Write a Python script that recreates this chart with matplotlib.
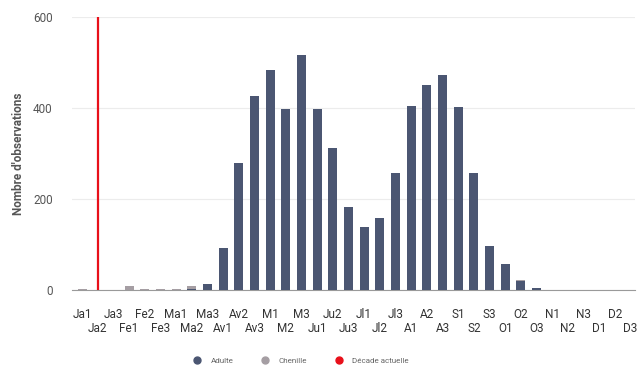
import numpy as np
import matplotlib
matplotlib.use("Agg")
import matplotlib.pyplot as plt
from matplotlib.lines import Line2D

plt.rcParams['font.family'] = ['Roboto', 'DejaVu Sans']

decades = ["Ja1", "Ja2", "Ja3", "Fe1", "Fe2", "Fe3", "Ma1", "Ma2", "Ma3",
           "Av1", "Av2", "Av3", "M1", "M2", "M3", "Ju1", "Ju2", "Ju3",
           "Jl1", "Jl2", "Jl3", "A1", "A2", "A3", "S1", "S2", "S3",
           "O1", "O2", "O3", "N1", "N2", "N3", "D1", "D2", "D3"]

adulte = [0, 0, 0, 0, 0, 0, 0, 2, 13,
          92, 279, 426, 483, 398, 516, 398, 312, 182,
          138, 158, 257, 404, 450, 473, 402, 257, 97,
          57, 20, 4, 0, 0, 0, 0, 0, 0]

chenille = [3, 0, 0, 9, 2, 3, 3, 7, 1,
            0, 0, 0, 0, 0, 0, 0, 0, 0,
            0, 0, 0, 0, 0, 0, 0, 0, 0,
            0, 2, 0, 0, 0, 0, 0, 0, 0]

decade_actuelle = "Ja2"

c_adulte = "#4b5672"
c_chenille = "#a59ea3"
c_red = "#e8101a"
c_text = "#555555"

fig = plt.figure(figsize=(6.43, 3.69), dpi=100)
ax = fig.add_axes([0.112, 0.214, 0.876, 0.740])

x = np.arange(len(decades))
ax.bar(x, adulte, width=0.58, color=c_adulte, zorder=3)
ax.bar(x, chenille, width=0.58, bottom=adulte, color=c_chenille, zorder=3)

ax.axvline(decades.index(decade_actuelle), ymin=0, ymax=1, color=c_red, lw=1.6, zorder=4)

ax.set_ylim(0, 600)
ax.set_xlim(-0.64, 35.3)
ax.set_yticks([0, 200, 400, 600])
ax.yaxis.grid(True, color="#ececec", lw=0.8, zorder=0)

# labels alternate on two rows
ax.set_xticks(x[::2])
ax.set_xticklabels(decades[::2], fontsize=8.5, color="#333333")
ax.set_xticks(x[1::2], minor=True)
ax.set_xticklabels(decades[1::2], minor=True, fontsize=8.5, color="#333333")
ax.tick_params(axis="x", which="major", length=0, pad=13)
ax.tick_params(axis="x", which="minor", length=0, pad=23)
ax.tick_params(axis="y", length=0, pad=14, labelsize=8.5, labelcolor=c_text)

for s in ["top", "right", "left"]:
    ax.spines[s].set_visible(False)
ax.spines["bottom"].set_color("#9a9a9a")
ax.spines["bottom"].set_linewidth(0.8)

ax.set_ylabel("Nombre d'observations", fontsize=8.5, color=c_text, fontweight="semibold", labelpad=6)

handles = [
    Line2D([], [], marker="o", ls="", color=c_adulte, markersize=5, label="Adulte"),
    Line2D([], [], marker="o", ls="", color=c_chenille, markersize=5, label="Chenille"),
    Line2D([], [], marker="o", ls="", color=c_red, markersize=5, label="Décade actuelle"),
]
fig.legend(handles=handles, loc="center", bbox_to_anchor=(0.465, 0.022), ncol=3,
           frameon=False, fontsize=5.8, handletextpad=0.6, columnspacing=3.0,
           labelcolor="#666666")

fig.savefig("out.png", dpi=100)
